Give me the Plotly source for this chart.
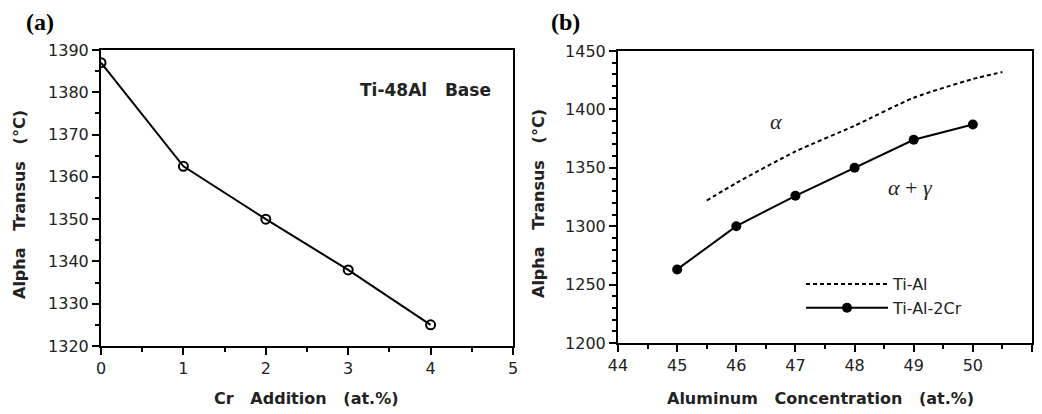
import plotly.graph_objects as go

# Panel (a): Cr addition vs alpha transus (Ti-48Al base)
cr_addition = [0, 1, 2, 3, 4]
alpha_transus_a = [1387, 1362.5, 1350, 1338, 1325]

# Panel (b): Aluminum concentration vs alpha transus
al_conc_tial = [45.5, 46, 47, 48, 49, 50, 50.5]
alpha_transus_tial = [1322, 1337, 1364, 1386, 1410, 1426, 1432]
al_conc_tialcr = [45, 46, 47, 48, 49, 50]
alpha_transus_tialcr = [1263, 1300, 1326, 1350, 1374, 1387]

W, H = 1042, 414
def px_x(p): return p / W
def px_y(p): return 1 - p / H

NB = "\u00a0"
fig = go.Figure()

fig.add_trace(go.Scatter(
    x=cr_addition, y=alpha_transus_a, mode="lines+markers",
    line=dict(color="black", width=2),
    marker=dict(symbol="circle-open", size=9, color="black", line=dict(width=2)),
    xaxis="x", yaxis="y", showlegend=False))

fig.add_trace(go.Scatter(
    x=al_conc_tial, y=alpha_transus_tial, mode="lines", name="Ti-Al",
    line=dict(color="black", width=2, dash="4px,3px", shape="spline", smoothing=0.6),
    xaxis="x2", yaxis="y2"))
fig.add_trace(go.Scatter(
    x=al_conc_tialcr, y=alpha_transus_tialcr, mode="lines+markers", name="Ti-Al-2Cr",
    line=dict(color="black", width=2),
    marker=dict(symbol="circle", size=10, color="black"),
    xaxis="x2", yaxis="y2"))

tickfont = dict(family="DejaVu Sans", size=16, color="#222")
common = dict(showline=True, linecolor="black", linewidth=2, mirror=True,
              ticks="outside", ticklen=7, tickwidth=1.5, tickcolor="black",
              showgrid=False, zeroline=False, tickfont=tickfont, automargin=False)

def minor(d):
    return dict(dtick=d, ticks="outside", ticklen=4, tickwidth=1.5, tickcolor="black", showgrid=False)

fig.update_layout(
    width=W, height=H, margin=dict(l=0, r=0, t=0, b=0, autoexpand=False),
    plot_bgcolor="white", paper_bgcolor="white",
    xaxis=dict(domain=[px_x(101), px_x(513)], range=[0, 5], dtick=1, anchor="y",
               minor=minor(0.5), **common),
    yaxis=dict(domain=[px_y(346), px_y(50)], range=[1320, 1390], dtick=10, anchor="x",
               minor=minor(5), **common),
    xaxis2=dict(domain=[px_x(618), px_x(1032)], range=[44, 51], dtick=1, anchor="y2",
                minor=minor(0.5), **common),
    yaxis2=dict(domain=[px_y(343), px_y(51)], range=[1200, 1450], dtick=50, anchor="x2",
                minor=minor(10), **common),
    legend=dict(x=px_x(801), y=px_y(267), xanchor="left", yanchor="top",
                bgcolor="rgba(0,0,0,0)", borderwidth=0, itemwidth=82,
                font=dict(family="DejaVu Sans", size=16, color="#222"),
                tracegroupgap=4),
    showlegend=True,
)

bold = dict(family="DejaVu Sans", size=16, color="#222")
serif_bold = dict(family="Liberation Serif", size=24, color="black")
greek = dict(family="Liberation Serif", size=22, color="#222")
SP = NB * 3

annotations = [
    dict(text="<b>(a)</b>", x=px_x(40), y=px_y(22), font=serif_bold),
    dict(text="<b>(b)</b>", x=px_x(565), y=px_y(22), font=serif_bold),
    dict(text=f"<b>Cr{SP}Addition{SP}(at.%)</b>", x=px_x(306), y=px_y(398), font=bold),
    dict(text=f"<b>Aluminum{SP}Concentration{SP}(at.%)</b>", x=px_x(820), y=px_y(398), font=bold),
    dict(text=f"<b>Alpha{SP}Transus{SP}(°C)</b>", x=px_x(19), y=px_y(205), textangle=-90, font=bold),
    dict(text=f"<b>Alpha{SP}Transus{SP}(°C)</b>", x=px_x(538), y=px_y(204), textangle=-90, font=bold),
    dict(text=f"<b>Ti-48Al{SP}Base</b>", x=px_x(425), y=px_y(90), font=dict(family="DejaVu Sans", size=17, color="#222")),
    dict(text="<i>α</i>", x=px_x(776), y=px_y(122), font=greek),
    dict(text="<i>α</i> + <i>γ</i>", x=px_x(910), y=px_y(187), font=greek),
]
for a in annotations:
    a.update(xref="paper", yref="paper", showarrow=False, xanchor="center", yanchor="middle")
fig.update_layout(annotations=annotations)

fig.write_html("out.html", config={"displayModeBar": False},
               post_script="document.body.style.margin='0';document.body.style.overflow='hidden';")
